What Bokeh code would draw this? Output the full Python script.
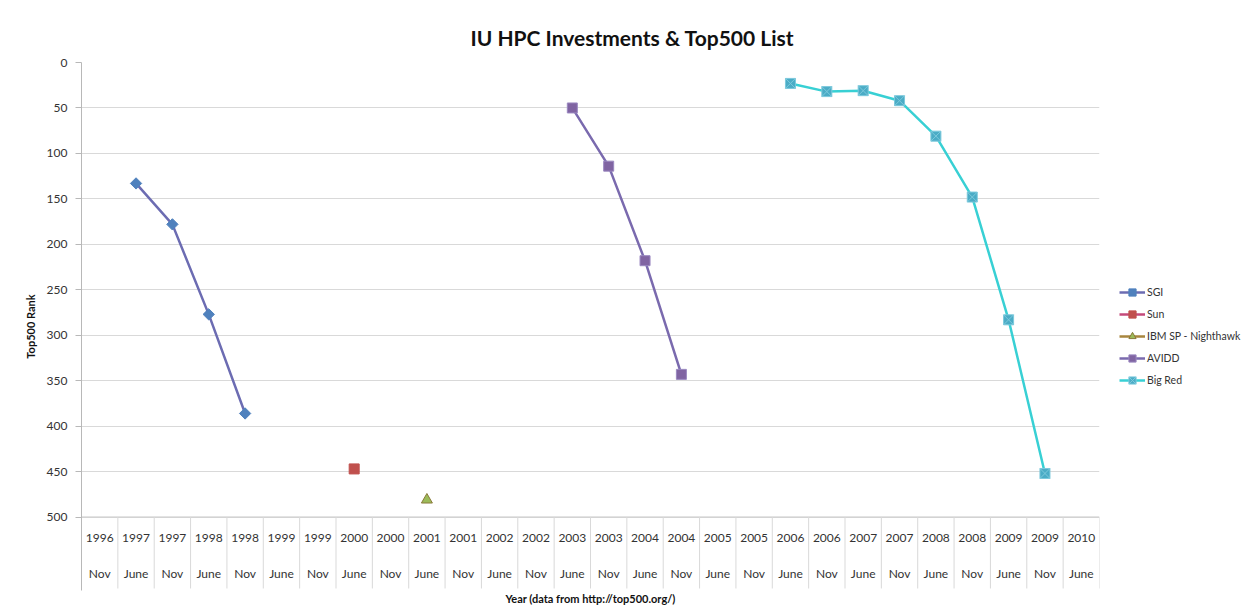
import numpy as np
from bokeh.plotting import figure
from bokeh.models import Range1d, FixedTicker, ColumnDataSource, Legend, LegendItem
from bokeh.core.properties import value
from bokeh.embed import file_html
from bokeh.resources import INLINE

# ---------------- data ----------------
years = ["1996", "1997", "1997", "1998", "1998", "1999", "1999", "2000", "2000",
         "2001", "2001", "2002", "2002", "2003", "2003", "2004", "2004", "2005",
         "2005", "2006", "2006", "2007", "2007", "2008", "2008", "2009", "2009", "2010"]
months = ["Nov", "June", "Nov", "June", "Nov", "June", "Nov", "June", "Nov",
          "June", "Nov", "June", "Nov", "June", "Nov", "June", "Nov", "June",
          "Nov", "June", "Nov", "June", "Nov", "June", "Nov", "June", "Nov", "June"]
N = None
sgi     = [N, 133, 178, 277, 386, N, N, N, N, N, N, N, N, N, N, N, N, N, N, N, N, N, N, N, N, N, N, N]
sun     = [N, N, N, N, N, N, N, 447, N, N, N, N, N, N, N, N, N, N, N, N, N, N, N, N, N, N, N, N]
ibm     = [N, N, N, N, N, N, N, N, N, 481, N, N, N, N, N, N, N, N, N, N, N, N, N, N, N, N, N, N]
avidd   = [N, N, N, N, N, N, N, N, N, N, N, N, N, 50, 114, 218, 343, N, N, N, N, N, N, N, N, N, N, N]
big_red = [N, N, N, N, N, N, N, N, N, N, N, N, N, N, N, N, N, N, N, 23, 32, 31, 42, 81, 148, 283, 452, N]
rank_ticks = [0, 50, 100, 150, 200, 250, 300, 350, 400, 450, 500]

FONT = "Lato"
TXT = "#333333"
AXIS = "#b8b8b8"
GRID = "#d9d9d9"

ncat = len(years)
xc = np.arange(ncat) + 0.5

def arr(v):
    return np.array([np.nan if a is None else a for a in v], dtype=float)

p = figure(frame_width=1018, frame_height=528, output_backend="svg", toolbar_location=None,
           x_range=Range1d(0, ncat), y_range=Range1d(580.7, 0),
           min_border_left=81, min_border_right=144, min_border_top=62, min_border_bottom=18,
           title="IU HPC Investments & Top500 List")
p.outline_line_color = None
p.background_fill_color = "white"
p.border_fill_color = "white"

p.title.align = "left"
p.title.offset = 389
p.title.text_font = FONT
p.title.text_font_size = "21px"
p.title.text_font_style = "bold"
p.title.text_color = "#111111"
p.title.standoff = 25

# y axis
p.yaxis.ticker = FixedTicker(ticks=rank_ticks)
p.yaxis.axis_label = "Top500 Rank"
p.yaxis.axis_label_text_font = FONT
p.yaxis.axis_label_text_font_style = "bold"
p.yaxis.axis_label_text_font_size = "11px"
p.yaxis.axis_label_text_color = "#111111"
p.yaxis.axis_label_standoff = 7
p.yaxis.major_label_text_font = FONT
p.yaxis.major_label_text_font_size = "12px"
p.yaxis.major_label_text_color = TXT
p.yaxis.major_label_standoff = 8
p.yaxis.axis_line_color = AXIS
p.yaxis.major_tick_line_color = AXIS
p.yaxis.major_tick_out = 6
p.yaxis.major_tick_in = 0
p.yaxis.minor_tick_line_color = None

p.ygrid.ticker = FixedTicker(ticks=rank_ticks[:-1])
p.ygrid.grid_line_color = GRID
p.xgrid.grid_line_color = None

# x axis (only its title is shown; category table drawn in frame)
p.xaxis.ticker = FixedTicker(ticks=[])
p.xaxis.axis_line_color = None
p.xaxis.major_tick_line_color = None
p.xaxis.minor_tick_line_color = None
p.xaxis.axis_label = "Year (data from http://top500.org/)"
p.xaxis.axis_label_text_font = FONT
p.xaxis.axis_label_text_font_style = "bold"
p.xaxis.axis_label_text_font_size = "11px"
p.xaxis.axis_label_text_color = "#111111"
p.xaxis.axis_label_standoff = 1

# category table: baseline, separators, labels
base = rank_ticks[-1]
p.segment(x0=[0], x1=[ncat], y0=[base], y1=[base], line_color=AXIS, line_width=1)
bounds = np.arange(ncat + 1)
p.segment(x0=bounds, x1=bounds, y0=[base] * len(bounds), y1=[578.5] * len(bounds),
          line_color=GRID, line_width=1)
p.text(x=xc, y=[523.5] * ncat, text=years, text_align="center", text_baseline="middle",
       text_font=value(FONT), text_font_size="12px", text_color=TXT)
p.text(x=xc, y=[562] * ncat, text=months, text_align="center", text_baseline="middle",
       text_font=value(FONT), text_font_size="12px", text_color=TXT)

# series
series = [
    ("SGI", sgi, "#6c6cb2", "square", "#4f81bd", "#4f81bd", 8, np.pi / 4),
    ("Sun", sun, "#c44a7a", "square", "#c0504d", "#c0504d", 10, 0),
    ("IBM SP - Nighthawk", ibm, "#a8863e", "triangle", "#9bbb59", "#8a7a3a", 11, 0),
    ("AVIDD", avidd, "#7a6aae", "square", "#8064a2", "#9a88c0", 10, 0),
    ("Big Red", big_red, "#38d0d4", "square_x", "#4bacc6", "#7cc9dc", 10, 0),
]
items = []
for name, vals, lc, mk, fc, oc, sz, ang in series:
    y = arr(vals)
    src = ColumnDataSource(dict(x=xc, y=y))
    r1 = p.line("x", "y", source=src, line_color=lc, line_width=2.5)
    r2 = p.scatter("x", "y", source=src, marker=mk, size=sz, angle=ang, fill_color=fc,
                   line_color=oc, line_width=1)
    items.append(LegendItem(label=name, renderers=[r1, r2]))

legend = Legend(items=items, location=(20, 201), border_line_color=None,
                background_fill_alpha=0, label_text_font=FONT, label_text_font_size="10.5px",
                label_text_color=TXT, glyph_width=26, glyph_height=18, label_height=18,
                spacing=4, padding=10, margin=0, label_standoff=2)
p.add_layout(legend, "right")

open("out.html", "w").write(file_html(p, INLINE))
